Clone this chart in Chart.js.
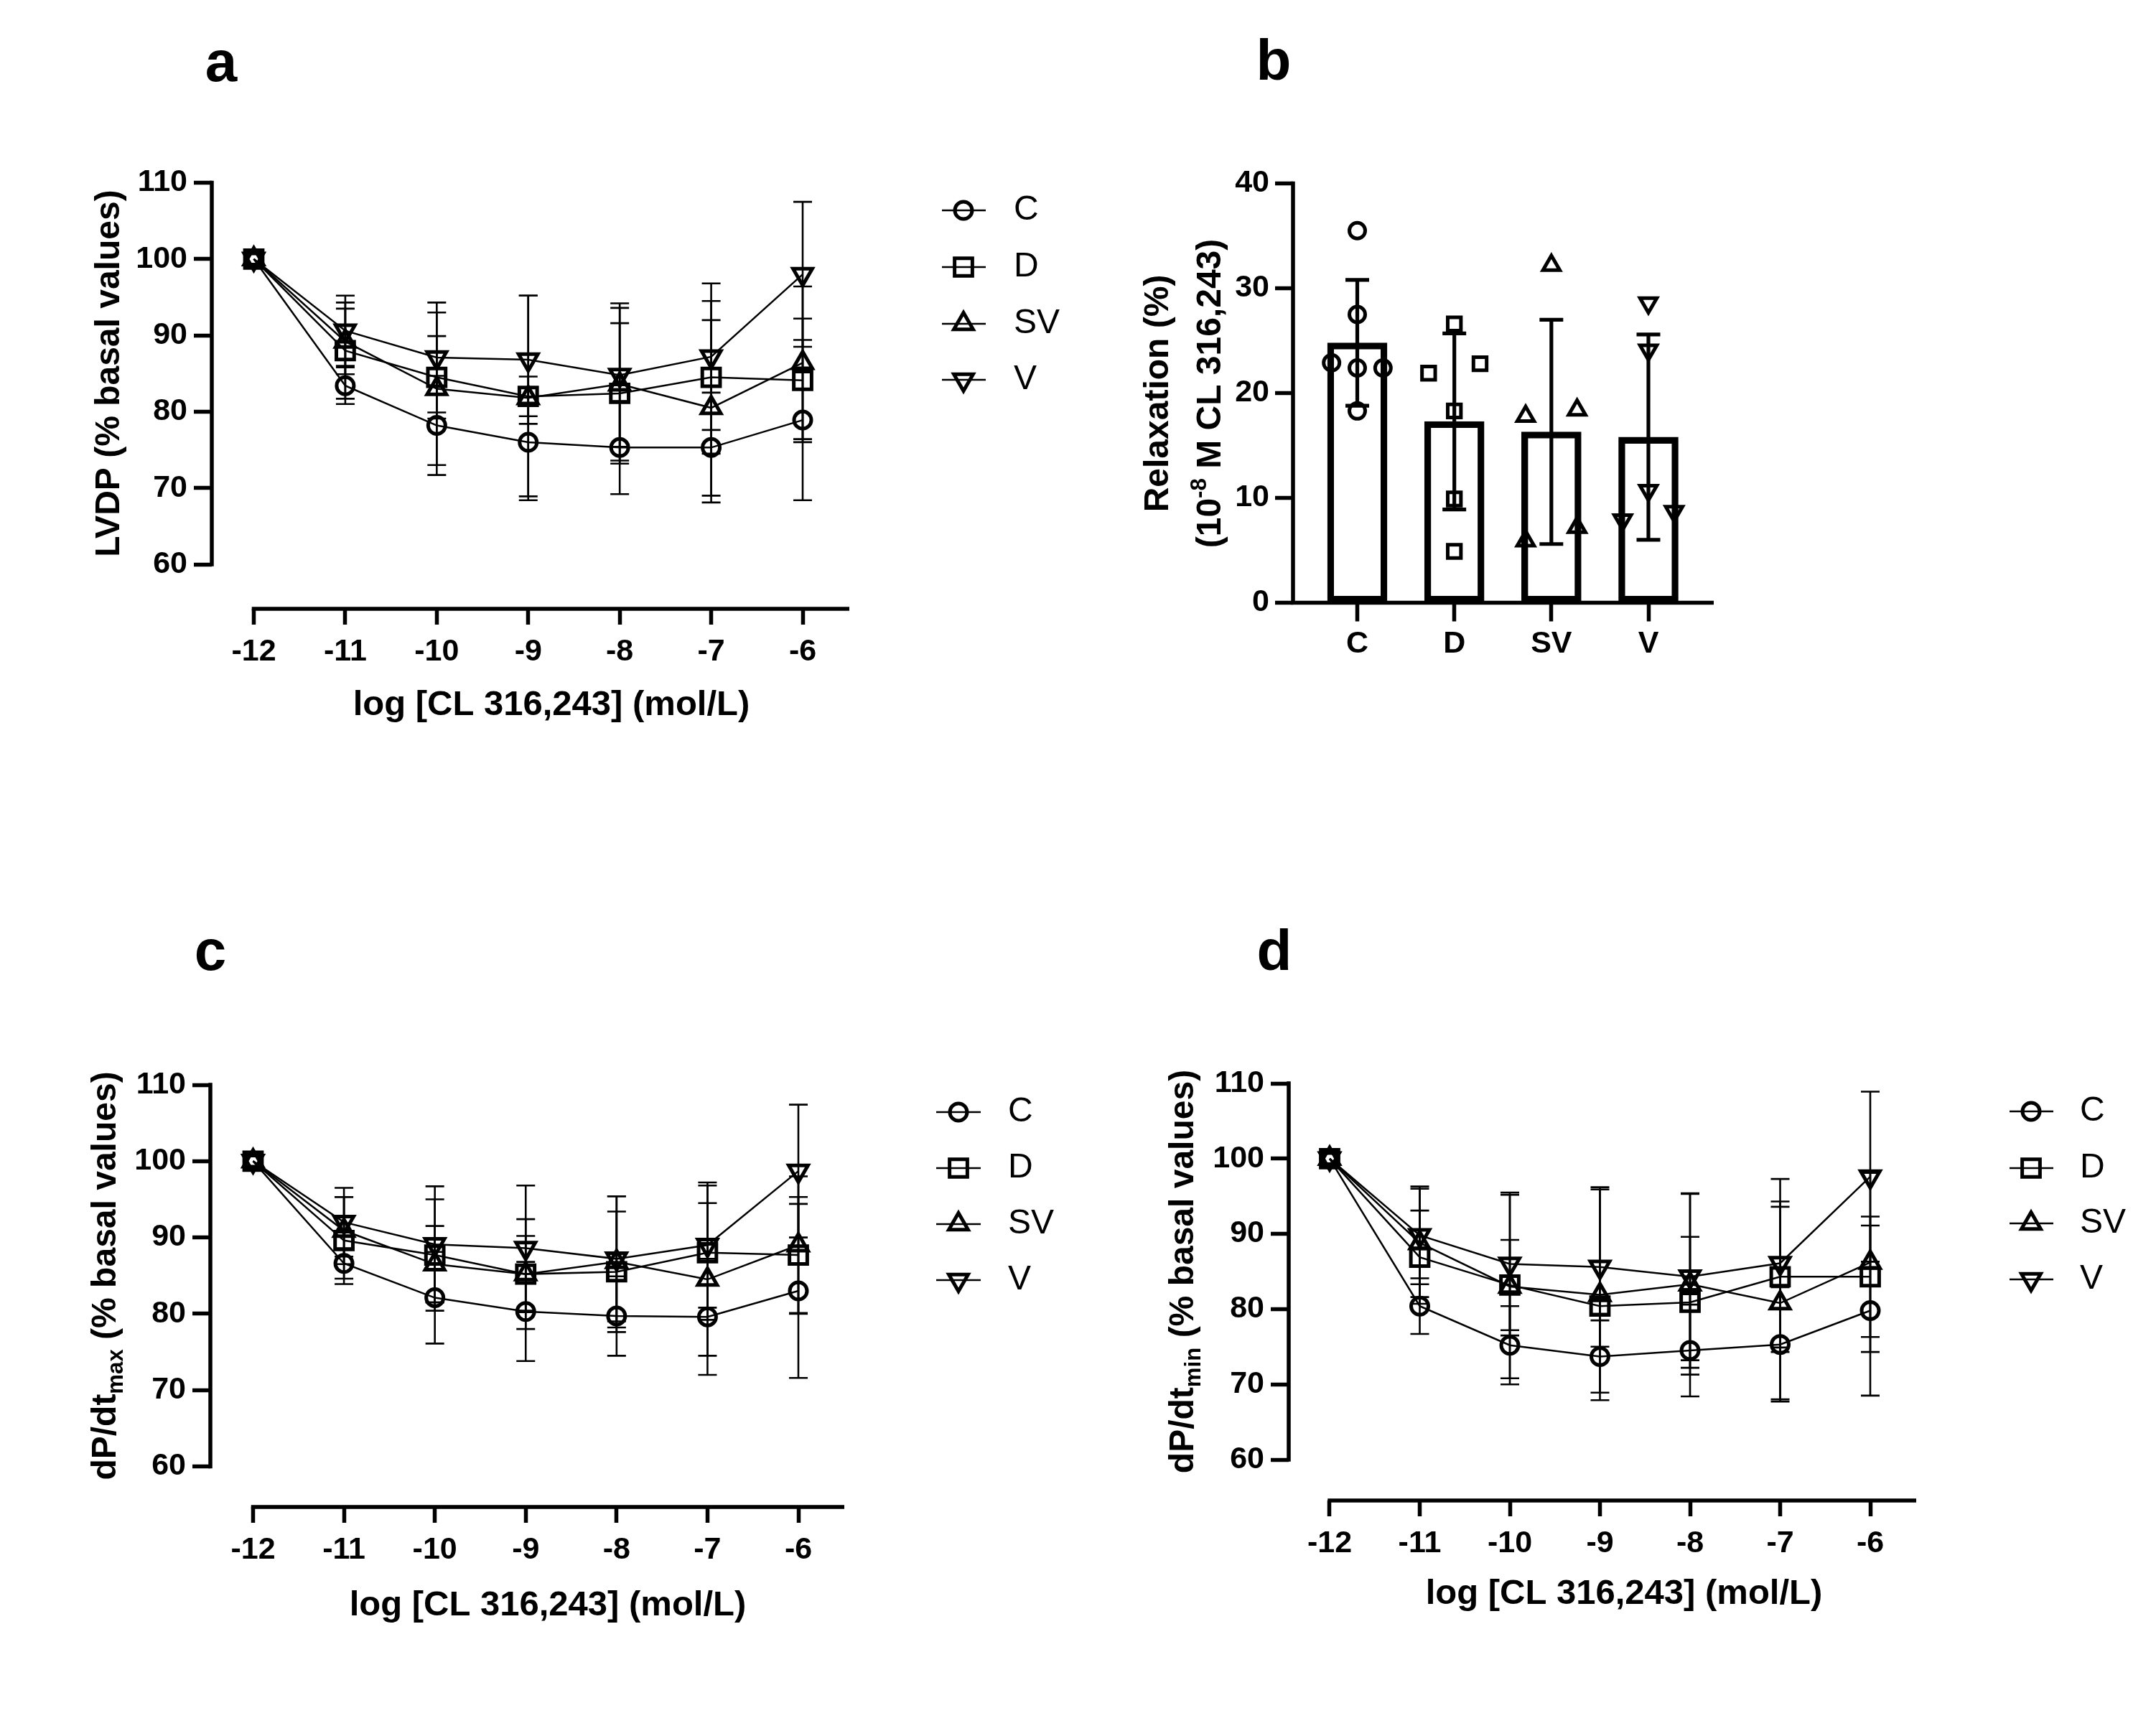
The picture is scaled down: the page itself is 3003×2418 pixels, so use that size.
<!DOCTYPE html>
<html>
<head>
<meta charset="utf-8">
<script src="https://cdn.jsdelivr.net/npm/chart.js@4.4.1/dist/chart.umd.min.js"></script>
<style>
  html, body { margin: 0; padding: 0; background: #fff; }
  body { width: 3003px; height: 2418px; position: relative; overflow: hidden; }
  canvas { position: absolute; }
</style>
</head>
<body>
<canvas id="panelA"></canvas>
<canvas id="panelB"></canvas>
<canvas id="panelC"></canvas>
<canvas id="panelD"></canvas>
<script>
// ---- data ----
const logConc = [-12, -11, -10, -9, -8, -7, -6];
const groupNames = ['C', 'D', 'SV', 'V'];
const lineYTicks = [60, 70, 80, 90, 100, 110];
const barYTicks = [0, 10, 20, 30, 40];

// a: LVDP (% basal), mean and SD
const lvdpC    = [100, 83.4, 78.2, 76.0, 75.3, 75.3, 78.9];
const lvdpCsd  = [0, 2.4, 6.5, 7.1, 6.1, 7.2, 10.5];
const lvdpD    = [100, 88.0, 84.5, 82.0, 82.4, 84.5, 84.1];
const lvdpDsd  = [0, 6.3, 5.4, 2.6, 9.2, 10.0, 8.1];
const lvdpSV   = [100, 89.2, 83.0, 81.8, 83.6, 80.5, 86.4];
const lvdpSVsd = [0, 4.3, 10.0, 13.4, 10.0, 11.5, 10.0];
const lvdpV    = [100, 90.6, 87.1, 86.8, 84.8, 87.2, 98.0];
const lvdpVsd  = [0, 4.6, 7.2, 8.4, 9.4, 9.6, 9.5];

// b: relaxation at 10^-8 M, bars = mean, error = SD, plus single animals
const relaxMean = [24.8, 17.3, 16.3, 15.8];
const relaxSd   = [6.0, 8.4, 10.7, 9.8];
const relaxC  = [35.5, 27.5, 22.9, 22.4, 22.4, 18.3];
const relaxD  = [26.6, 22.8, 21.9, 18.3, 9.9, 4.9];
const relaxSV = [32.2, 17.8, 18.4, 7.2, 5.9];
const relaxV  = [28.6, 24.1, 10.7, 7.9, 8.7];

// c: dP/dt max (% basal)
const maxC    = [100, 86.6, 82.1, 80.3, 79.7, 79.6, 83.0];
const maxCsd  = [0, 2.0, 6.0, 6.5, 5.2, 7.6, 11.4];
const maxD    = [100, 89.6, 87.7, 85.2, 85.5, 88.0, 87.7];
const maxDsd  = [0, 5.7, 7.3, 5.0, 7.9, 8.8, 7.6];
const maxSV   = [100, 90.9, 86.5, 85.2, 86.8, 84.5, 89.0];
const maxSVsd = [0, 4.4, 5.0, 7.2, 8.6, 10.0, 9.0];
const maxV    = [100, 92.0, 89.1, 88.6, 87.2, 89.0, 98.7];
const maxVsd  = [0, 4.5, 7.6, 8.2, 8.2, 8.2, 8.7];

// d: dP/dt min (% basal)
const minC    = [100, 80.4, 75.2, 73.7, 74.5, 75.3, 79.8];
const minCsd  = [0, 3.7, 5.2, 4.8, 6.1, 7.6, 11.3];
const minD    = [100, 86.9, 83.2, 80.4, 80.9, 84.3, 84.3];
const minDsd  = [0, 6.2, 6.0, 1.0, 8.7, 10.0, 8.0];
const minSV   = [100, 88.8, 83.0, 81.9, 83.3, 80.8, 86.2];
const minSVsd = [0, 7.2, 12.2, 14.0, 12.0, 12.8, 11.9];
const minV    = [100, 89.8, 86.0, 85.6, 84.3, 86.1, 97.6];
const minVsd  = [0, 6.5, 9.5, 10.6, 11.1, 11.2, 11.3];

// titles
const concTitle = [{t: 'log [CL 316,243] (mol/L)'}];
const lvdpTitle = [{t: 'LVDP (% basal values)'}];
const maxTitle  = [{t: 'dP/dt'}, {t: 'max', sub: true}, {t: ' (% basal values)'}];
const minTitle  = [{t: 'dP/dt'}, {t: 'min', sub: true}, {t: ' (% basal values)'}];
const relaxTitle1 = [{t: 'Relaxation (%)'}];
const relaxTitle2 = [{t: '(10'}, {t: '-8', sup: true}, {t: ' M CL 316,243)'}];

// ---- styles / layout ----
const FAMILY = '"Liberation Sans", Arial, Helvetica, sans-serif';
const AXIS_W = 5.5;
const X_H = 100;
const tickFont = {family: FAMILY, size: 43, weight: 'bold'};

const markerStyles = [
  {pointStyle: 'circle',   rotation: 0,   line: 12,   bar: 11},
  {pointStyle: 'rect',     rotation: 0,   line: 17.5, bar: 13},
  {pointStyle: 'triangle', rotation: 0,   line: 15.5, bar: 13.5},
  {pointStyle: 'triangle', rotation: 180, line: 15.5, bar: 13.5}
];

// page coordinates of each panel
const layoutA = {box: [0, 0, 1500, 1200], yAxisX: 295, xAxisY: 848, xRef: [-12, 353.5, -6, 1118], xEnd: 1183,
  yRef: [110, 254.5, 60, 786], yTitle: [149, 520], xTitle: [768, 978], tag: ['a', 308, 113],
  legend: {line: [1312, 1373], mark: 1342, text: 1412, rows: [293, 372, 451, 529]}};
const layoutC = {box: [0, 1200, 1500, 1218], yAxisX: 293, xAxisY: 2099, xRef: [-12, 352.5, -6, 1112], xEnd: 1176,
  yRef: [110, 1511, 60, 2042.5], yTitle: [144, 1777], xTitle: [763, 2232], tag: ['c', 293, 1351],
  legend: {line: [1304, 1366], mark: 1335, text: 1404, rows: [1549, 1627, 1705, 1783]}};
const layoutD = {box: [1500, 1200, 1503, 1218], yAxisX: 1795, xAxisY: 2090, xRef: [-12, 1852, -6, 2605], xEnd: 2669,
  yRef: [110, 1509, 60, 2033], yTitle: [1645, 1771], xTitle: [2262, 2216], tag: ['d', 1775, 1351],
  legend: {line: [2799, 2860], mark: 2829, text: 2897, rows: [1548, 1627, 1704, 1782]}};
const layoutB = {box: [1500, 0, 1503, 1200], yAxisX: 1801, xAxisY: 839.5, xRef: [0, 1890.5, 3, 2296], xEnd: 2387,
  yRef: [40, 255.6, 0, 839.5], yTitle: [1610, 1683, 548], tag: ['b', 1774, 111]};

// value at pixel pa and pb, from two reference ticks
function mapRange(ref, pa, pb) {
  const k = (ref[2] - ref[0]) / (ref[3] - ref[1]);
  return [ref[0] + (pa - ref[1]) * k, ref[0] + (pb - ref[1]) * k];
}

function place(cv, box) {
  cv.width = box[2];
  cv.height = box[3];
  cv.style.left = box[0] + 'px';
  cv.style.top = box[1] + 'px';
}

function richText(ctx, segs, x, y, rot, size, weight) {
  ctx.save();
  ctx.translate(x, y);
  ctx.rotate(rot);
  ctx.fillStyle = '#000';
  ctx.textAlign = 'left';
  ctx.textBaseline = 'alphabetic';
  const parts = segs.map(s => {
    const sz = (s.sub || s.sup) ? size * 0.65 : size;
    ctx.font = weight + ' ' + sz + 'px ' + FAMILY;
    return {s: s, sz: sz, w: ctx.measureText(s.t).width};
  });
  const total = parts.reduce((a, p) => a + p.w, 0);
  let cx = -total / 2;
  const base = size * 0.36;
  parts.forEach(p => {
    ctx.font = weight + ' ' + p.sz + 'px ' + FAMILY;
    let dy = base;
    if (p.s.sub) dy += size * 0.2;
    if (p.s.sup) dy -= size * 0.42;
    ctx.fillText(p.s.t, cx, dy);
    cx += p.w;
  });
  ctx.restore();
}

function drawMarker(ctx, style, rot, r, bw, x, y) {
  ctx.save();
  ctx.lineWidth = bw;
  ctx.strokeStyle = '#000';
  ctx.fillStyle = 'rgba(0,0,0,0)';
  if (Chart.helpers && Chart.helpers.drawPoint) {
    Chart.helpers.drawPoint(ctx, {pointStyle: style, rotation: rot, radius: r, borderWidth: bw}, x, y);
  } else {
    ctx.beginPath();
    if (style === 'circle') {
      ctx.arc(x, y, r, 0, Math.PI * 2);
    } else if (style === 'rect') {
      const s = r * Math.SQRT1_2;
      ctx.rect(x - s, y - s, 2 * s, 2 * s);
    } else {
      let a = rot * Math.PI / 180;
      for (let k = 0; k < 3; k++) {
        const px = x + Math.sin(a) * r, py = y - Math.cos(a) * r;
        if (k === 0) ctx.moveTo(px, py); else ctx.lineTo(px, py);
        a += 2 * Math.PI / 3;
      }
      ctx.closePath();
    }
    ctx.stroke();
  }
  ctx.restore();
}

// GraphPad-like scatter spread: points in the same 5-unit band are set side by side
function spread(values, centre, step) {
  const bands = {};
  values.slice().sort((a, b) => a - b).forEach(v => {
    const k = Math.floor(v / 5);
    (bands[k] = bands[k] || []).push(v);
  });
  const out = [];
  Object.keys(bands).forEach(k => {
    const b = bands[k];
    const slots = b.length === 2 ? [-1, 1] : [0, 1, -1, 2, -2];
    b.forEach((v, i) => out.push({x: centre + slots[i] * step, y: v}));
  });
  return out;
}

// ---- plugins ----
const axisLines = {
  id: 'axisLines',
  afterDraw(chart, args, opts) {
    const {ctx, chartArea: a, scales: {x, y}} = chart;
    const w = AXIS_W;
    const yt = y.ticks;
    ctx.save();
    ctx.strokeStyle = '#000';
    ctx.lineWidth = w;
    ctx.lineCap = 'butt';
    ctx.beginPath();
    ctx.moveTo(a.left, y.getPixelForValue(yt[yt.length - 1].value) - w / 2);
    ctx.lineTo(a.left, y.getPixelForValue(yt[0].value) + w / 2);
    const x0 = opts.fromFirstTick ? x.getPixelForValue(x.ticks[0].value) - w / 2 : a.left - w / 2;
    ctx.moveTo(x0, a.bottom);
    ctx.lineTo(a.right, a.bottom);
    ctx.stroke();
    ctx.restore();
  }
};

const errorBars = {
  id: 'errorBars',
  afterDatasetsDraw(chart, args, opts) {
    const ctx = chart.ctx, ys = chart.scales.y;
    chart.data.datasets.forEach((ds, di) => {
      if (!ds.errorBars) return;
      const meta = chart.getDatasetMeta(di);
      ctx.save();
      ctx.strokeStyle = '#000';
      ctx.lineWidth = opts.width;
      ctx.beginPath();
      meta.data.forEach((el, i) => {
        const sd = ds.errorBars[i];
        if (!sd) return;
        const v = ds.data[i].y;
        const hi = ys.getPixelForValue(v + sd), lo = ys.getPixelForValue(v - sd);
        ctx.moveTo(el.x, hi); ctx.lineTo(el.x, lo);
        ctx.moveTo(el.x - opts.cap, hi); ctx.lineTo(el.x + opts.cap, hi);
        ctx.moveTo(el.x - opts.cap, lo); ctx.lineTo(el.x + opts.cap, lo);
      });
      ctx.stroke();
      ctx.restore();
    });
  }
};

const panelText = {
  id: 'panelText',
  afterDraw(chart, args, opts) {
    const ctx = chart.ctx;
    const bx = opts.box[0], by = opts.box[1];
    (opts.titles || []).forEach(t => {
      richText(ctx, t.segs, t.x - bx, t.y - by, t.rot, t.size, 'bold');
    });
    if (opts.tag) {
      ctx.save();
      ctx.fillStyle = '#000';
      ctx.font = 'bold 80px ' + FAMILY;
      ctx.textAlign = 'center';
      ctx.textBaseline = 'alphabetic';
      ctx.fillText(opts.tag[0], opts.tag[1] - bx, opts.tag[2] - by);
      ctx.restore();
    }
    const lg = opts.legend;
    if (lg) {
      chart.data.datasets.forEach((ds, i) => {
        const ry = lg.rows[i] - by;
        ctx.save();
        ctx.strokeStyle = '#000';
        ctx.lineWidth = ds.borderWidth;
        ctx.beginPath();
        ctx.moveTo(lg.line[0] - bx, ry);
        ctx.lineTo(lg.line[1] - bx, ry);
        ctx.stroke();
        ctx.restore();
        drawMarker(ctx, ds.pointStyle, ds.pointRotation, ds.pointRadius, ds.pointBorderWidth, lg.mark - bx, ry);
        ctx.save();
        ctx.fillStyle = '#000';
        ctx.font = '48px ' + FAMILY;
        ctx.textAlign = 'left';
        ctx.textBaseline = 'middle';
        ctx.fillText(ds.label, lg.text - bx, ry);
        ctx.restore();
      });
    }
  }
};

// ---- charts ----
function lineChart(id, L, means, sds, yTitle) {
  const cv = document.getElementById(id);
  place(cv, L.box);
  const [bx, by, bw, bh] = L.box;
  const [xMin, xMax] = mapRange(L.xRef, L.yAxisX, L.xEnd);
  const [yMax, yMin] = mapRange(L.yRef, L.yRef[1], L.xAxisY);

  return new Chart(cv, {
    type: 'line',
    data: {
      datasets: groupNames.map((g, i) => ({
        label: g,
        data: logConc.map((x, k) => ({x: x, y: means[i][k]})),
        errorBars: sds[i],
        borderColor: '#000',
        borderWidth: 2.5,
        backgroundColor: 'rgba(0,0,0,0)',
        pointStyle: markerStyles[i].pointStyle,
        pointRotation: markerStyles[i].rotation,
        pointRadius: markerStyles[i].line,
        pointHoverRadius: markerStyles[i].line,
        pointBorderWidth: 5,
        pointBorderColor: '#000',
        pointBackgroundColor: 'rgba(0,0,0,0)',
        fill: false,
        tension: 0,
        clip: false
      }))
    },
    options: {
      responsive: false,
      animation: false,
      devicePixelRatio: 1,
      events: [],
      layout: {padding: {left: 0, top: L.yRef[1] - by, right: bw - (L.xEnd - bx), bottom: bh - (L.xAxisY - by) - X_H}},
      plugins: {
        legend: {display: false},
        tooltip: {enabled: false},
        axisLines: {fromFirstTick: true},
        errorBars: {width: 2.6, cap: 13},
        panelText: {
          box: L.box,
          tag: L.tag,
          legend: L.legend,
          titles: [
            {segs: yTitle, x: L.yTitle[0], y: L.yTitle[1], rot: -Math.PI / 2, size: 48},
            {segs: concTitle, x: L.xTitle[0], y: L.xTitle[1], rot: 0, size: 49}
          ]
        }
      },
      scales: {
        x: {
          type: 'linear', min: xMin, max: xMax,
          afterFit: s => { s.height = X_H; },
          afterBuildTicks: s => { s.ticks = logConc.map(v => ({value: v})); },
          ticks: {font: tickFont, color: '#000', padding: 12, autoSkip: false, maxRotation: 0, callback: v => String(v)},
          grid: {display: true, drawOnChartArea: false, drawTicks: true, tickLength: 22, tickWidth: AXIS_W, tickColor: '#000'},
          border: {display: false}
        },
        y: {
          type: 'linear', min: yMin, max: yMax,
          afterFit: s => { s.width = L.yAxisX - bx; },
          afterBuildTicks: s => { s.ticks = lineYTicks.map(v => ({value: v})); },
          ticks: {font: tickFont, color: '#000', padding: 9, autoSkip: false, callback: v => String(v)},
          grid: {display: true, drawOnChartArea: false, drawTicks: true, tickLength: 25, tickWidth: AXIS_W, tickColor: '#000'},
          border: {display: false}
        }
      }
    },
    plugins: [axisLines, errorBars, panelText]
  });
}

function barChart(id, L) {
  const cv = document.getElementById(id);
  place(cv, L.box);
  const [bx, by, bw, bh] = L.box;
  const [xMin, xMax] = mapRange(L.xRef, L.yAxisX, L.xEnd);
  const [yMax, yMin] = mapRange(L.yRef, L.yRef[1], L.xAxisY);
  const animals = [relaxC, relaxD, relaxSV, relaxV];

  const datasets = [{
    type: 'bar',
    label: 'mean',
    data: groupNames.map((g, i) => ({x: i, y: relaxMean[i]})),
    errorBars: relaxSd,
    barThickness: 83,
    borderWidth: 8.7,
    borderColor: '#000',
    backgroundColor: 'rgba(0,0,0,0)',
    borderSkipped: false,
    order: 10
  }];
  groupNames.forEach((g, i) => {
    datasets.push({
      type: 'scatter',
      label: g,
      data: spread(animals[i], i, 0.265),
      showLine: false,
      pointStyle: markerStyles[i].pointStyle,
      pointRotation: markerStyles[i].rotation,
      pointRadius: markerStyles[i].bar,
      pointHoverRadius: markerStyles[i].bar,
      pointBorderWidth: 5,
      pointBorderColor: '#000',
      pointBackgroundColor: 'rgba(0,0,0,0)',
      clip: false,
      order: 1
    });
  });

  return new Chart(cv, {
    type: 'bar',
    data: {datasets: datasets},
    options: {
      responsive: false,
      animation: false,
      devicePixelRatio: 1,
      events: [],
      layout: {padding: {left: 0, top: L.yRef[1] - by, right: bw - (L.xEnd - bx), bottom: bh - (L.xAxisY - by) - X_H}},
      plugins: {
        legend: {display: false},
        tooltip: {enabled: false},
        axisLines: {fromFirstTick: false},
        errorBars: {width: 5.2, cap: 16.5},
        panelText: {
          box: L.box,
          tag: L.tag,
          titles: [
            {segs: relaxTitle1, x: L.yTitle[0], y: L.yTitle[2], rot: -Math.PI / 2, size: 48},
            {segs: relaxTitle2, x: L.yTitle[1], y: L.yTitle[2], rot: -Math.PI / 2, size: 48}
          ]
        }
      },
      scales: {
        x: {
          type: 'linear', min: xMin, max: xMax, offset: false,
          afterFit: s => { s.height = X_H; },
          afterBuildTicks: s => { s.ticks = groupNames.map((g, i) => ({value: i})); },
          ticks: {font: tickFont, color: '#000', padding: 6, autoSkip: false, maxRotation: 0, callback: v => groupNames[v]},
          grid: {display: true, offset: false, drawOnChartArea: false, drawTicks: true, tickLength: 26, tickWidth: AXIS_W, tickColor: '#000'},
          border: {display: false}
        },
        y: {
          type: 'linear', min: yMin, max: yMax,
          afterFit: s => { s.width = L.yAxisX - bx; },
          afterBuildTicks: s => { s.ticks = barYTicks.map(v => ({value: v})); },
          ticks: {font: tickFont, color: '#000', padding: 8, autoSkip: false, callback: v => String(v)},
          grid: {display: true, drawOnChartArea: false, drawTicks: true, tickLength: 25, tickWidth: AXIS_W, tickColor: '#000'},
          border: {display: false}
        }
      }
    },
    plugins: [axisLines, errorBars, panelText]
  });
}

lineChart('panelA', layoutA, [lvdpC, lvdpD, lvdpSV, lvdpV], [lvdpCsd, lvdpDsd, lvdpSVsd, lvdpVsd], lvdpTitle);
barChart('panelB', layoutB);
lineChart('panelC', layoutC, [maxC, maxD, maxSV, maxV], [maxCsd, maxDsd, maxSVsd, maxVsd], maxTitle);
lineChart('panelD', layoutD, [minC, minD, minSV, minV], [minCsd, minDsd, minSVsd, minVsd], minTitle);
</script>
</body>
</html>
